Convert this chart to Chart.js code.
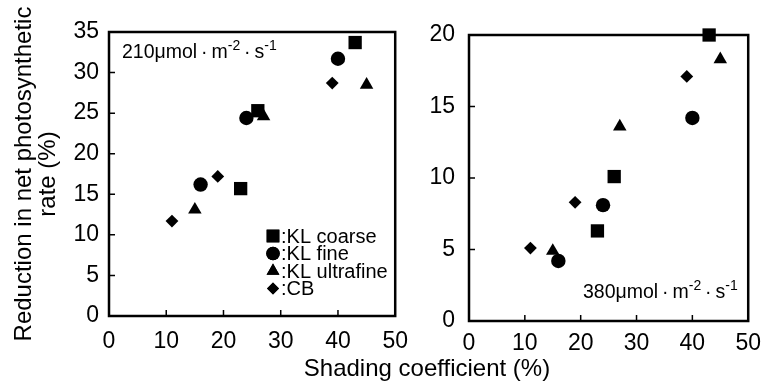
<!DOCTYPE html>
<html><head><meta charset="utf-8">
<script src="https://cdn.jsdelivr.net/npm/chart.js@4.4.0/dist/chart.umd.min.js"></script>
<style>
html,body{margin:0;padding:0;background:#fff;width:770px;height:390px;overflow:hidden;}
#c1{position:absolute;left:0;top:0;}
#c2{position:absolute;left:420px;top:0;}
#xt{position:absolute;left:227px;width:400px;top:356px;text-align:center;font:24px "Liberation Sans",Arial,Helvetica,sans-serif;line-height:24px;color:#000;}
</style></head>
<body>
<canvas id="c1" width="420" height="390"></canvas>
<canvas id="c2" width="350" height="390"></canvas>
<div id="xt">Shading coefficient (%)</div>
<script>
// ---- data ----
const seriesNames = ['KL coarse', 'KL fine', 'KL ultrafine', 'CB'];
const xCoarse = [23, 26, 43];
const xFine = [16, 24, 40];
const xUltra = [15, 27, 45];
const xCB = [11, 19, 39];
// 210 umol m-2 s-1
const y210Coarse = [15.7, 25.3, 33.7];
const y210Fine = [16.2, 24.4, 31.7];
const y210Ultra = [13.1, 24.6, 28.5];
const y210CB = [11.7, 17.2, 28.7];
// 380 umol m-2 s-1
const y380Coarse = [6.3, 10.1, 20.0];
const y380Fine = [4.2, 8.1, 14.2];
const y380Ultra = [4.9, 13.6, 18.3];
const y380CB = [5.1, 8.3, 17.1];
const xTicksMax = 50, y210Max = 35, y380Max = 20;
const yTitle = ['Reduction in net photosynthetic', 'rate (%)'];

const FONT = '"Liberation Sans", Arial, Helvetica, sans-serif';
const styles = [
  {pointStyle: 'rect', r: 9.4},
  {pointStyle: 'circle', r: 7.2},
  {pointStyle: 'triangle', r: 7.8},
  {pointStyle: 'rectRot', r: 6.4}
];

function pts(xs, ys) { return xs.map((x, i) => ({x: x, y: ys[i]})); }

function makeDatasets(ysets) {
  const xsets = [xCoarse, xFine, xUltra, xCB];
  return ysets.map((ys, i) => ({
    label: seriesNames[i],
    data: pts(xsets[i], ys),
    pointStyle: styles[i].pointStyle,
    pointRadius: styles[i].r,
    pointHoverRadius: styles[i].r,
    backgroundColor: '#000',
    borderColor: '#000',
    borderWidth: 0,
    showLine: false,
    clip: false
  }));
}

const framePlugin = {
  id: 'frame',
  beforeDatasetsDraw(chart) {
    const ctx = chart.ctx, a = chart.chartArea;
    const xs = chart.scales.x, ys = chart.scales.y;
    ctx.save();
    ctx.strokeStyle = '#000';
    ctx.lineWidth = 2.5;
    ctx.strokeRect(a.left, a.top, a.right - a.left, a.bottom - a.top);
    ctx.lineWidth = 1.5;
    ctx.beginPath();
    xs.ticks.forEach(t => {
      if (t.value <= xs.min || t.value >= xs.max) return;
      const p = xs.getPixelForValue(t.value);
      ctx.moveTo(p, a.bottom); ctx.lineTo(p, a.bottom - 6);
    });
    ys.ticks.forEach(t => {
      if (t.value <= ys.min || t.value >= ys.max) return;
      const p = ys.getPixelForValue(t.value);
      ctx.moveTo(a.left, p); ctx.lineTo(a.left + 6, p);
    });
    ctx.stroke();
    ctx.restore();
  }
};

function drawSupText(ctx, parts, x, y, size) {
  ctx.save();
  ctx.fillStyle = '#000';
  ctx.textBaseline = 'alphabetic';
  ctx.textAlign = 'left';
  let cx = x;
  parts.forEach(p => {
    const s = p.sup ? Math.round(size * 0.7) : size;
    ctx.font = s + 'px ' + FONT;
    ctx.fillText(p.t, cx, p.sup ? y - size * 0.42 : y);
    cx += ctx.measureText(p.t).width;
  });
  ctx.restore();
}

function unitParts(v) {
  return [{t: v + 'μmol\u2009·\u2009m'}, {t: '-2', sup: true}, {t: '\u2009·\u2009s'}, {t: '-1', sup: true}];
}

const labelPlugin = {
  id: 'labels',
  afterDraw(chart, args, opts) {
    const ctx = chart.ctx;
    drawSupText(ctx, unitParts(opts.value), opts.x, opts.y, 19.5);
    if (opts.legend) {
      const lg = opts.legend;
      ctx.save();
      ctx.fillStyle = '#000';
      seriesNames.forEach((name, i) => {
        const cy = lg.y + i * lg.dy;
        ctx.beginPath();
        Chart.helpers.drawPoint(ctx, {pointStyle: styles[i].pointStyle, radius: styles[i].r - 0.4, borderWidth: 0, rotation: 0}, lg.x, cy);
        ctx.fill();
        ctx.font = lg.size + 'px ' + FONT;
        ctx.textBaseline = 'middle';
        ctx.textAlign = 'left';
        ctx.fillText(':' + name, lg.x + 8, cy + 1);
      });
      ctx.restore();
    }
  }
};

function makeOptions(cfg) {
  return {
    responsive: false,
    animation: false,
    events: [],
    layout: {padding: cfg.pad},
    plugins: {
      legend: {display: false},
      tooltip: {enabled: false},
      labels: cfg.labels
    },
    scales: {
      x: {
        type: 'linear', min: 0, max: xTicksMax,
        ticks: {stepSize: 10, color: '#000', font: {family: FONT, size: 23}, padding: cfg.xPad, maxRotation: 0},
        grid: {display: false, drawTicks: false},
        border: {display: false},
        afterFit(s) { s.height = cfg.xHeight; }
      },
      y: {
        type: 'linear', min: 0, max: cfg.yMax,
        ticks: {stepSize: 5, color: '#000', font: {family: FONT, size: 23}, padding: cfg.yPad},
        grid: {display: false, drawTicks: false},
        border: {display: false},
        title: cfg.title,
        afterFit(s) { s.width = cfg.yWidth; }
      }
    }
  };
}

new Chart(document.getElementById('c1'), {
  type: 'scatter',
  data: {datasets: makeDatasets([y210Coarse, y210Fine, y210Ultra, y210CB])},
  options: makeOptions({
    pad: {top: 32, right: 23, bottom: 0, left: 0},
    xHeight: 74, yWidth: 109, yMax: y210Max, xPad: 12, yPad: 10,
    title: {display: true, text: yTitle, color: '#000', font: {family: FONT, size: 24, lineHeight: 1.0}, padding: {top: 12, bottom: 0}},
    labels: {value: '210', x: 122, y: 58, legend: {x: 273, y: 236, dy: 17.5, size: 20}}
  }),
  plugins: [framePlugin, labelPlugin]
});

new Chart(document.getElementById('c2'), {
  type: 'scatter',
  data: {datasets: makeDatasets([y380Coarse, y380Fine, y380Ultra, y380CB])},
  options: makeOptions({
    pad: {top: 35, right: 15, bottom: 0, left: 0},
    xHeight: 69, yWidth: 49, yMax: y380Max, xPad: 9, yPad: 14,
    title: {display: false},
    labels: {value: '380', x: 163, y: 298, legend: null}
  }),
  plugins: [framePlugin, labelPlugin]
});
</script>
</body></html>
